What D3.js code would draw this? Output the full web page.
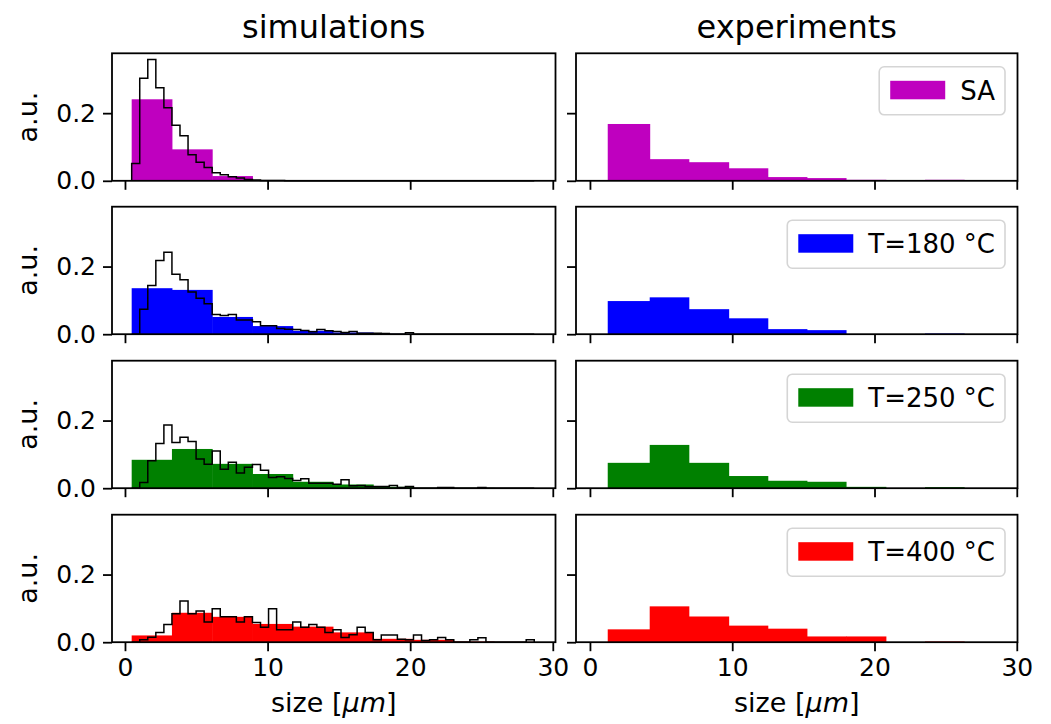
<!DOCTYPE html>
<html>
<head>
<meta charset="utf-8">
<script src="https://cdn.jsdelivr.net/npm/d3@7.9.0/dist/d3.min.js"></script>
<style>
  body { margin: 0; background: #fff; }
  svg, svg text { font-family: "DejaVu Sans", sans-serif; }
  .tick text { font-size: 25px; fill: #000; font-family: "DejaVu Sans", sans-serif; }
  .tick line { stroke: #000; }
</style>
</head>
<body>
<svg id="chart" width="1051" height="724"></svg>
<script>
// ---- data ----
const labels = ["SA", "T=180 °C", "T=250 °C", "T=400 °C"];
const colors = ["#bf00bf", "#0000ff", "#008000", "#ff0000"];

// simulations: 10 coarse bins and 50 fine bins over the same size range
const simRange = [0.47, 28.7];

const simCoarseSA   = [0.241, 0.093, 0.014, 0.001, 0, 0, 0, 0, 0, 0];
const simCoarse180  = [0.136, 0.131, 0.051, 0.024, 0.010, 0.005, 0.001, 0, 0, 0];
const simCoarse250  = [0.084, 0.116, 0.072, 0.042, 0.019, 0.011, 0.004, 0.001, 0.001, 0];
const simCoarse400  = [0.020, 0.087, 0.075, 0.054, 0.046, 0.029, 0.010, 0.007, 0.002, 0.001];

const simFineSA = [
  0.051, 0.303, 0.359, 0.275, 0.216, 0.164, 0.133, 0.077, 0.055, 0.039,
  0.024, 0.018, 0.012, 0.008, 0.004, 0.002, 0.001, 0.001, 0.001, 0,
  0, 0, 0, 0, 0, 0, 0, 0, 0, 0,
  0, 0, 0, 0, 0, 0, 0, 0, 0, 0,
  0, 0, 0, 0, 0, 0, 0, 0, 0, 0];
const simFine180 = [
  0, 0.074, 0.144, 0.218, 0.242, 0.177, 0.161, 0.125, 0.106, 0.090,
  0.058, 0.055, 0.058, 0.042, 0.042, 0.037, 0.025, 0.025, 0.017, 0.015,
  0.014, 0.011, 0.007, 0.014, 0.010, 0.008, 0.005, 0.008, 0.003, 0.003,
  0.003, 0.002, 0, 0, 0.004, 0, 0, 0, 0, 0,
  0, 0, 0, 0, 0, 0, 0, 0, 0, 0];
const simFine250 = [
  0, 0.017, 0.081, 0.132, 0.187, 0.135, 0.151, 0.138, 0.086, 0.071,
  0.110, 0.056, 0.077, 0.045, 0.062, 0.070, 0.053, 0.032, 0.034, 0.029,
  0.023, 0.028, 0.015, 0.015, 0.015, 0.012, 0.025, 0.007, 0.008, 0.005,
  0.005, 0.005, 0.008, 0.002, 0.005, 0, 0, 0, 0.002, 0.002,
  0, 0, 0, 0.002, 0, 0, 0, 0, 0, 0];
const simFine400 = [
  0, 0.007, 0.015, 0.029, 0.052, 0.084, 0.122, 0.084, 0.092, 0.060,
  0.099, 0.075, 0.075, 0.060, 0.075, 0.058, 0.044, 0.099, 0.037, 0.037,
  0.060, 0.044, 0.052, 0.044, 0.029, 0.037, 0.014, 0.022, 0.044, 0.029,
  0.007, 0.021, 0.021, 0.009, 0.007, 0.021, 0.005, 0.007, 0.014, 0.007,
  0, 0, 0.007, 0.013, 0, 0, 0, 0, 0, 0.007];

// experiments: 9 bins
const expEdges = [1.25, 4.2, 6.95, 9.75, 12.5, 15.25, 18.0, 20.8, 23.55, 26.3];
const expSA  = [0.168, 0.064, 0.055, 0.037, 0.011, 0.008, 0.003, 0, 0.003];
const exp180 = [0.098, 0.109, 0.074, 0.047, 0.015, 0.012, 0, 0, 0.002];
const exp250 = [0.075, 0.128, 0.075, 0.036, 0.022, 0.019, 0.004, 0, 0.003];
const exp400 = [0.038, 0.106, 0.076, 0.049, 0.040, 0.017, 0.017, 0, 0.002];

const xTicks = [0, 10, 20, 30];
const yTicks = [0, 0.2];
const yMax = 0.377;

const simCoarse = [simCoarseSA, simCoarse180, simCoarse250, simCoarse400];
const simFine = [simFineSA, simFine180, simFine250, simFine400];
const expVals = [expSA, exp180, exp250, exp400];

// ---- layout ----
const svg = d3.select("#chart");
const colX = [[112, 555.5], [576, 1017.5]];
const xDomains = [[-0.91, 30.19], [-0.98, 30.05]];
const rowTop = [53.3, 206.7, 360.7, 514.7];
const panelH = 127.5;
const tickLen = 9;

const coarseEdges = d3.range(11).map(i => simRange[0] + i * (simRange[1] - simRange[0]) / 10);
const fineEdges = d3.range(51).map(i => simRange[0] + i * (simRange[1] - simRange[0]) / 50);

function drawPanel(row, col) {
  const x = d3.scaleLinear().domain(xDomains[col]).range(colX[col]);
  const y = d3.scaleLinear().domain([0, yMax]).range([rowTop[row] + panelH, rowTop[row]]);
  const g = svg.append("g");

  let bars;
  if (col === 0) {
    bars = simCoarse[row].map((v, i) => ({ x0: coarseEdges[i], x1: coarseEdges[i + 1], v }));
  } else {
    bars = expVals[row].map((v, i) => ({ x0: expEdges[i], x1: expEdges[i + 1], v }));
  }
  g.selectAll("rect.bar")
    .data(bars.filter(d => d.v > 0))
    .join("rect")
    .attr("class", "bar")
    .attr("x", d => x(d.x0))
    .attr("width", d => x(d.x1) - x(d.x0) + 0.5)
    .attr("y", d => y(d.v))
    .attr("height", d => y(0) - y(d.v))
    .attr("fill", colors[row]);

  if (col === 0) {
    // step outline of the fine histogram
    const pts = [[fineEdges[0], 0]];
    simFine[row].forEach((v, i) => {
      pts.push([fineEdges[i], v]);
      pts.push([fineEdges[i + 1], v]);
    });
    pts.push([fineEdges[50], 0]);
    g.append("path")
      .attr("d", d3.line().x(d => x(d[0])).y(d => y(d[1]))(pts))
      .attr("fill", "none")
      .attr("stroke", "#000")
      .attr("stroke-width", 1.5)
      .attr("stroke-linejoin", "miter");
  }

  // axes
  const xAxis = d3.axisBottom(x).tickValues(xTicks).tickSize(tickLen).tickPadding(7)
    .tickFormat(row === 3 ? d3.format("d") : () => "");
  const gx = g.append("g").attr("transform", `translate(0,${y(0)})`).call(xAxis);
  const yAxis = d3.axisLeft(y).tickValues(yTicks).tickSize(tickLen).tickPadding(7)
    .tickFormat(col === 0 ? d3.format(".1f") : () => "");
  const gy = g.append("g").attr("transform", `translate(${colX[col][0]},0)`).call(yAxis);
  [gx, gy].forEach(a => {
    a.attr("font-family", null).attr("font-size", null);
    a.select(".domain").remove();
    a.selectAll(".tick line").attr("stroke-width", 1.8);
  });

  // frame
  g.append("rect")
    .attr("x", colX[col][0]).attr("y", rowTop[row])
    .attr("width", colX[col][1] - colX[col][0]).attr("height", panelH)
    .attr("fill", "none").attr("stroke", "#000").attr("stroke-width", 1.8);

  if (col === 0) {
    svg.append("text")
      .attr("transform", `translate(37,${rowTop[row] + panelH / 2}) rotate(-90)`)
      .attr("text-anchor", "middle")
      .attr("font-size", 27)
      .text("a.u.");
  } else {
    // legend
    const top = rowTop[row] + 13.5;
    const right = colX[1][1] - 12.5;
    const lg = svg.append("g");
    const box = lg.append("rect");
    const txt = lg.append("text")
      .attr("font-size", 26)
      .attr("y", top + 33)
      .text(labels[row]);
    const tw = txt.node().getComputedTextLength();
    const boxW = 11 + 55 + 15 + tw + 10;
    const left = right - boxW;
    txt.attr("x", left + 81);
    box.attr("x", left).attr("y", top).attr("width", boxW).attr("height", 48)
      .attr("rx", 5).attr("fill", "#fff").attr("fill-opacity", 0.8)
      .attr("stroke", "#d5d5d5").attr("stroke-width", 1.6);
    lg.append("rect")
      .attr("x", left + 11).attr("y", top + 14)
      .attr("width", 55).attr("height", 18.5)
      .attr("fill", colors[row]);
  }
}

for (let r = 0; r < 4; r++) {
  drawPanel(r, 0);
  drawPanel(r, 1);
}

// titles
const titles = ["simulations", "experiments"];
titles.forEach((t, i) => {
  svg.append("text")
    .attr("x", (colX[i][0] + colX[i][1]) / 2)
    .attr("y", 38)
    .attr("text-anchor", "middle")
    .attr("font-size", 32)
    .text(t);
});

// x labels
[0, 1].forEach(i => {
  const t = svg.append("text")
    .attr("x", (colX[i][0] + colX[i][1]) / 2)
    .attr("y", 712)
    .attr("text-anchor", "middle")
    .attr("font-size", 27);
  t.append("tspan").text("size [");
  t.append("tspan").attr("font-style", "italic").text("μm");
  t.append("tspan").text("]");
});
</script>
</body>
</html>
